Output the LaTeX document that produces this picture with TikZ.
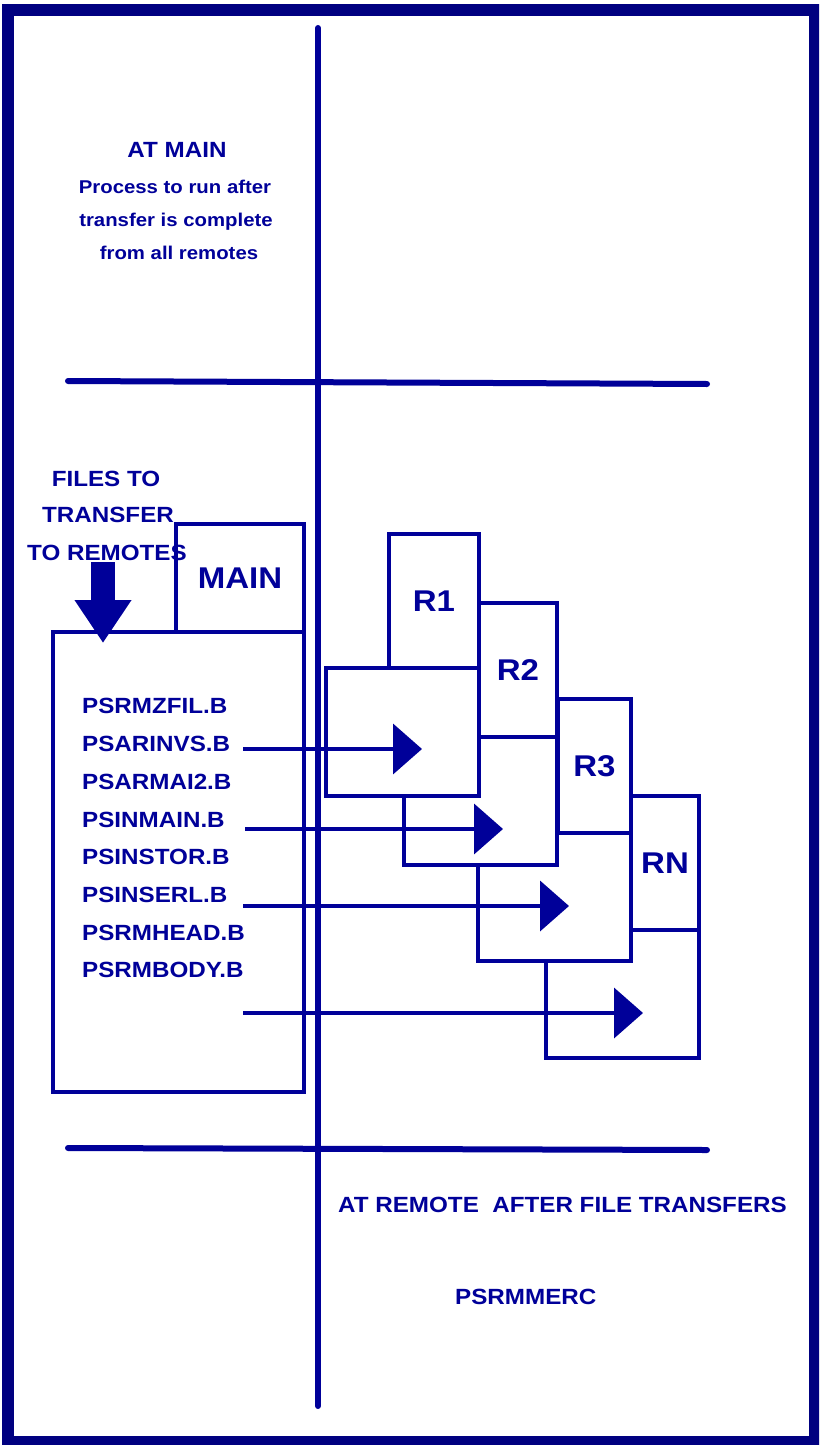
\documentclass[tikz,border=0pt]{standalone}
\usepackage{fontspec}
\setmainfont{Liberation Sans}[FakeStretch=1.1]
\usetikzlibrary{arrows.meta,positioning}
\definecolor{ink}{RGB}{0,0,153}
\definecolor{navy}{RGB}{0,0,128}

\begin{document}
\begin{tikzpicture}
[x=1pt,y=-1pt,
 txt/.style = {text=ink, inner sep=0pt, font=\bfseries\fontsize{22}{26}\selectfont},
 small/.style = {text=ink, inner sep=0pt, font=\bfseries\fontsize{18.5}{22}\selectfont},
 rule/.style = {draw=ink, line width=6pt, line cap=round},
 box/.style = {draw=ink, fill=white, line width=4pt, rectangle, inner sep=0pt, outer sep=0pt, text=ink, font=\bfseries\fontsize{30}{34}\selectfont},
 body/.style = {box, minimum width=153pt, minimum height=128pt, anchor=north west},
 tab/.style = {box, minimum height=134pt, anchor=south east},
 feed/.style = {draw=ink, line width=4pt, -{Triangle[length=29pt,width=50pt]}},
 drop/.style = {draw=ink, line width=24pt, -{Triangle[length=43pt,width=54pt]}},]
\useasboundingbox (0,0) rectangle (819,1445);
\clip (0,0) rectangle (819,1445);
\draw[navy, line width=12pt] (8,10) rectangle (815,1442);
\draw[rule] (318,28) -- (318,1406);
\draw[rule] (68,381) -- (707,384);
\draw[rule] (68,1148) -- (707,1150);

\node[txt, anchor=base] (atmain) at (177,157) {AT MAIN};
\node[small, anchor=base] (proc1) at (175,193) {Process to run after};
\node[small, anchor=base] (proc2) at (176,226) {transfer is complete};
\node[small, anchor=base] (proc3) at (179,259) {from all remotes};

\node[box, minimum width=128pt, minimum height=108pt, anchor=north west] (mainbox) at (176,524) {MAIN};
\node[box, minimum width=251pt, minimum height=460pt, anchor=north west] (filebox) at (53,632) {};

\node[txt, anchor=base] (files1) at (106,486) {FILES TO};
\node[txt, anchor=base] (files2) at (108,522) {TRANSFER};
\node[txt, anchor=base] (files3) at (107,560) {TO REMOTES};

\node[txt, anchor=base west] (f1) at (82,713) {PSRMZFIL.B};
\node[txt, anchor=base west] (f2) at (82,751) {PSARINVS.B};
\node[txt, anchor=base west] (f3) at (82,789) {PSARMAI2.B};
\node[txt, anchor=base west] (f4) at (82,827) {PSINMAIN.B};
\node[txt, anchor=base west] (f5) at (82,864) {PSINSTOR.B};
\node[txt, anchor=base west] (f6) at (82,902) {PSINSERL.B};
\node[txt, anchor=base west] (f7) at (82,940) {PSRMHEAD.B};
\node[txt, anchor=base west] (f8) at (82,977) {PSRMBODY.B};

\coordinate (dropstart) at (103,562);
\coordinate (dropend) at (103,643);
\draw[drop] (dropstart) -- (dropend);

\node[body] (rn) at (546,930) {};
\node[tab, minimum width=68pt] (rntab) at (rn.north east) {RN};
\node[body] (r3) at (478,833) {};
\node[tab, minimum width=73pt] (r3tab) at (r3.north east) {R3};
\node[body] (r2) at (404,737) {};
\node[tab, minimum width=78pt] (r2tab) at (r2.north east) {R2};
\node[body] (r1) at (326,668) {};
\node[tab, minimum width=90pt] (r1tab) at (r1.north east) {R1};

\coordinate (s1) at (243,749);
\coordinate (e1) at (422,749);
\coordinate (s2) at (245,829);
\coordinate (e2) at (503,829);
\coordinate (s3) at (243,906);
\coordinate (e3) at (569,906);
\coordinate (s4) at (243,1013);
\coordinate (e4) at (643,1013);
\draw[feed] (s1) -- (e1);
\draw[feed] (s2) -- (e2);
\draw[feed] (s3) -- (e3);
\draw[feed] (s4) -- (e4);

\node[txt, anchor=base west] (remote) at (338,1212) {AT REMOTE\ \ AFTER FILE TRANSFERS};
\node[txt, anchor=base west] (merge) at (455,1304) {PSRMMERC};
\end{tikzpicture}
\end{document}
